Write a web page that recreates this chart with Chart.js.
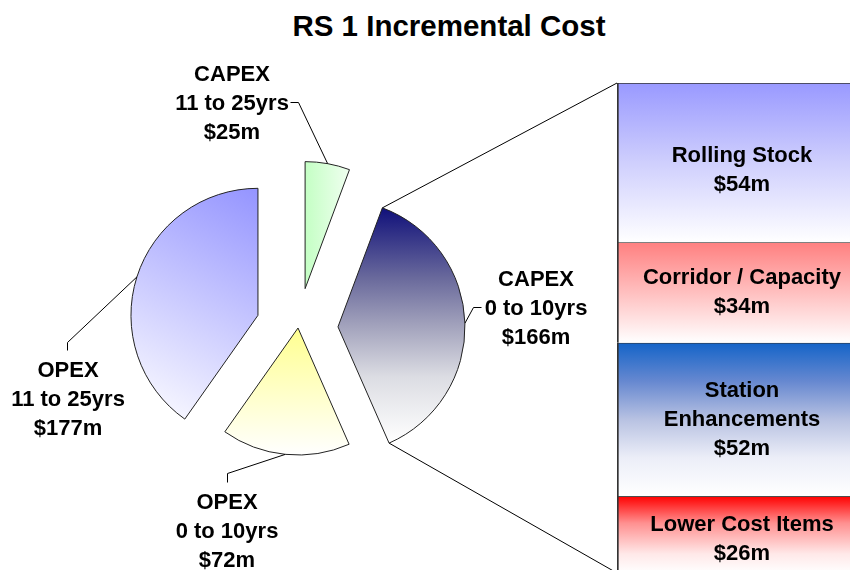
<!DOCTYPE html>
<html>
<head>
<meta charset="utf-8">
<title>RS 1 Incremental Cost</title>
<script src="https://cdn.jsdelivr.net/npm/chart.js@4.4.0/dist/chart.umd.min.js"></script>
<style>
  html, body { margin: 0; padding: 0; background: #fff; overflow: hidden; }
  body { position: relative; width: 850px; height: 570px; }
  #title { position: absolute; left: 0; top: 9px; width: 898px; text-align: center;
           font: bold 29.5px Arial, "Liberation Sans", sans-serif; line-height: 34px; color: #000; }
  #pie { position: absolute; left: 0; top: 0; }
  #bar { position: absolute; left: 617px; top: 83px; }
</style>
</head>
<body>
<div id="title">RS 1 Incremental Cost</div>
<canvas id="pie" width="850" height="570"></canvas>
<canvas id="bar" width="250" height="490"></canvas>
<script>
// pie slices, clockwise from 12 o'clock
const sliceGroups = ["CAPEX", "CAPEX", "OPEX", "OPEX"];
const slicePeriods = ["11 to 25yrs", "0 to 10yrs", "0 to 10yrs", "11 to 25yrs"];
const sliceValues = [25, 166, 72, 177];

// split of CAPEX 0 to 10yrs, top to bottom
const barItems = [["Rolling Stock"], ["Corridor / Capacity"], ["Station", "Enhancements"], ["Lower Cost Items"]];
const barValues = [54, 34, 52, 26];

const FONT = 'Arial, "Liberation Sans", sans-serif';
const money = v => "$" + v + "m";

// looks
const R = 127;
const explode = [40, 40, 0, 42];
const sliceFill = [
  { dir: "h", stops: [[0, "#c4ffc4"], [1, "#f0fff0"]] },
  { dir: "v", stops: [[0, "#10107a"], [0.3, "#6a6a9c"], [0.5, "#a2a2bc"], [0.72, "#dcdde3"], [1, "#ffffff"]] },
  { dir: "v", stops: [[0, "#ffff90"], [1, "#ffffff"]] },
  { dir: "d", stops: [[0, "#9494ff"], [1, "#ffffff"]] },
];
const barFill = [
  [[0, "#9999ff"], [0.5, "#cfcffd"], [1, "#ffffff"]],
  [[0, "#ff8080"], [1, "#ffffff"]],
  [[0, "#1464c8"], [0.25, "#6688d0"], [0.5, "#b8c2e2"], [0.75, "#eceef8"], [1, "#ffffff"]],
  [[0, "#ff0000"], [0.35, "#ff9090"], [0.75, "#ffe8e8"], [1, "#ffffff"]],
];
const barTextShift = [8, 0, 0, 5];
// slice label placement: centre of middle line, leader elbow, leader end
const labelSpots = [
  { x: 232, y: 103.5, elbow: [298, 102], end: [290, 102] },
  { x: 536, y: 309, elbow: [473, 307], end: [481, 307] },
  { x: 227, y: 532, elbow: [227, 473], end: [227, 482] },
  { x: 68, y: 400, elbow: [67, 342], end: [67, 350] },
];

function sliceBox(chart, i) {
  const a = chart.chartArea;
  const total = sliceValues.reduce((s, v) => s + v, 0);
  let cum = 0;
  for (let k = 0; k < i; k++) cum += sliceValues[k];
  const start = -Math.PI / 2 + 2 * Math.PI * cum / total;
  const end = start + 2 * Math.PI * sliceValues[i] / total;
  const mid = (start + end) / 2;
  const cx = (a.left + a.right) / 2 + Math.cos(mid) * explode[i];
  const cy = (a.top + a.bottom) / 2 + Math.sin(mid) * explode[i];
  const pts = [[cx, cy], [cx + R * Math.cos(start), cy + R * Math.sin(start)], [cx + R * Math.cos(end), cy + R * Math.sin(end)]];
  for (let q = -2; q <= 4; q++) {
    const t = q * Math.PI / 2;
    if (t > start && t < end) pts.push([cx + R * Math.cos(t), cy + R * Math.sin(t)]);
  }
  const xs = pts.map(p => p[0]), ys = pts.map(p => p[1]);
  return { x0: Math.min(...xs), x1: Math.max(...xs), y0: Math.min(...ys), y1: Math.max(...ys) };
}

function sliceGradient(c) {
  const f = sliceFill[c.dataIndex];
  const chart = c.chart;
  if (!chart.chartArea) return f.stops[0][1];
  const b = sliceBox(chart, c.dataIndex);
  if (![b.x0, b.x1, b.y0, b.y1].every(Number.isFinite)) return f.stops[0][1];
  let g;
  if (f.dir === "v") g = chart.ctx.createLinearGradient(0, b.y0, 0, b.y1);
  else if (f.dir === "h") g = chart.ctx.createLinearGradient(b.x0, 0, b.x1, 0);
  else g = chart.ctx.createLinearGradient(b.x1, b.y0, b.x0, b.y1);
  f.stops.forEach(s => g.addColorStop(s[0], s[1]));
  return g;
}

function barGradient(c, i) {
  const y = c.chart.scales.y;
  if (!y || !c.chart.chartArea) return barFill[i][0][1];
  let cum = 0;
  for (let k = 0; k < i; k++) cum += barValues[k];
  const top = y.getPixelForValue(cum), bottom = y.getPixelForValue(cum + barValues[i]);
  if (!Number.isFinite(top) || !Number.isFinite(bottom)) return barFill[i][0][1];
  const g = c.chart.ctx.createLinearGradient(0, top, 0, bottom);
  barFill[i].forEach(s => g.addColorStop(s[0], s[1]));
  return g;
}

const barLabels = {
  id: "barLabels",
  afterDatasetsDraw(chart) {
    const ctx = chart.ctx;
    ctx.save();
    ctx.font = "bold 22px " + FONT;
    ctx.textAlign = "center";
    ctx.textBaseline = "middle";
    ctx.fillStyle = "#000";
    barItems.forEach((name, i) => {
      const el = chart.getDatasetMeta(i).data[0];
      const lines = [...name, money(barValues[i])];
      const cy = (el.y + el.base) / 2 + barTextShift[i];
      lines.forEach((t, k) => ctx.fillText(t, el.x, cy + (k - (lines.length - 1) / 2) * 29));
    });
    ctx.restore();
  }
};

const barCanvas = document.getElementById("bar");
const barChart = new Chart(barCanvas, {
  type: "bar",
  data: {
    labels: ["CAPEX 0 to 10yrs"],
    datasets: barItems.map((name, i) => ({
      label: name.join(" "),
      data: [barValues[i]],
      backgroundColor: c => barGradient(c, i),
      borderColor: "#333",
      borderWidth: { top: 1, left: 2, right: 1, bottom: 0 },
      borderSkipped: false,
      barPercentage: 1,
      categoryPercentage: 1,
    })),
  },
  options: {
    responsive: false,
    animation: false,
    events: [],
    layout: { padding: 0 },
    scales: {
      x: { stacked: true, display: false },
      y: { stacked: true, display: false, reverse: true, min: 0, max: barValues.reduce((s, v) => s + v, 0) },
    },
    plugins: { legend: { display: false }, tooltip: { enabled: false } },
  },
  plugins: [barLabels],
});

const pieExtras = {
  id: "pieExtras",
  afterDatasetsUpdate(chart) {
    chart.getDatasetMeta(0).data.forEach((arc, i) => {
      const mid = (arc.startAngle + arc.endAngle) / 2;
      arc.x += Math.cos(mid) * explode[i];
      arc.y += Math.sin(mid) * explode[i];
    });
  },
  afterDatasetsDraw(chart) {
    const ctx = chart.ctx;
    const arcs = chart.getDatasetMeta(0).data;
    ctx.save();
    ctx.strokeStyle = "#000";
    ctx.lineWidth = 1;

    // split slice to the bar
    const big = arcs[1];
    const area = barChart.chartArea;
    const bx = barCanvas.offsetLeft + area.left;
    ctx.beginPath();
    ctx.moveTo(big.x + big.outerRadius * Math.cos(big.startAngle), big.y + big.outerRadius * Math.sin(big.startAngle));
    ctx.lineTo(bx, barCanvas.offsetTop + area.top);
    ctx.moveTo(big.x + big.outerRadius * Math.cos(big.endAngle), big.y + big.outerRadius * Math.sin(big.endAngle));
    ctx.lineTo(bx, barCanvas.offsetTop + area.bottom);
    ctx.stroke();

    ctx.font = "bold 22px " + FONT;
    ctx.textAlign = "center";
    ctx.textBaseline = "middle";
    ctx.fillStyle = "#000";
    arcs.forEach((arc, i) => {
      const s = labelSpots[i];
      const mid = (arc.startAngle + arc.endAngle) / 2;
      ctx.beginPath();
      ctx.moveTo(arc.x + arc.outerRadius * Math.cos(mid), arc.y + arc.outerRadius * Math.sin(mid));
      ctx.lineTo(s.elbow[0] + 0.5, s.elbow[1] + 0.5);
      ctx.lineTo(s.end[0] + 0.5, s.end[1] + 0.5);
      ctx.stroke();
      const lines = [sliceGroups[i], slicePeriods[i], money(sliceValues[i])];
      lines.forEach((t, k) => ctx.fillText(t, s.x, s.y + (k - 1) * 29));
    });
    ctx.restore();
  }
};

new Chart(document.getElementById("pie"), {
  type: "pie",
  data: {
    labels: sliceGroups.map((g, i) => g + " " + slicePeriods[i]),
    datasets: [{
      data: sliceValues,
      backgroundColor: sliceGradient,
      borderColor: "#222",
      borderWidth: 1,
    }],
  },
  options: {
    responsive: false,
    animation: false,
    events: [],
    radius: R,
    layout: { padding: { left: 0, right: 254, top: 86, bottom: 0 } },
    plugins: { legend: { display: false }, tooltip: { enabled: false } },
  },
  plugins: [pieExtras],
});
</script>
</body>
</html>
